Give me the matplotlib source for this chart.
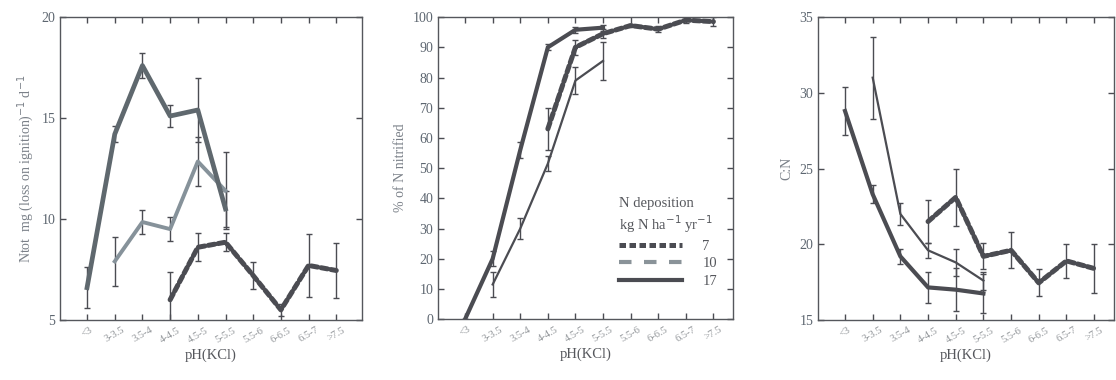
import matplotlib.pyplot as plt
from matplotlib.lines import Line2D
import numpy as np

plt.rcParams['font.family'] = ['Liberation Serif', 'DejaVu Serif']

# pH(KCl) classes
cats = ["<3", "3-3.5", "3.5-4", "4-4.5", "4.5-5", "5-5.5", "5.5-6", "6-6.5", "6.5-7", ">7.5"]
N = None

# panel a: Ntot mg (loss on ignition)-1 d-1
ntot_7 = [N, N, N, 6.0, 8.6, 8.85, 7.2, 5.5, 7.7, 7.45]
ntot_7_err = [N, N, N, 1.4, 0.7, 0.45, 0.65, 0.3, 1.55, 1.35]
ntot_10 = [N, 7.9, 9.85, 9.5, 12.85, 11.4, N, N, N, N]
ntot_10_err = [N, 1.2, 0.6, 0.6, 1.2, 1.9, N, N, N, N]
ntot_17 = [6.6, 14.2, 17.6, 15.1, 15.4, 10.5, N, N, N, N]
ntot_17_err = [1.0, 0.4, 0.6, 0.55, 1.6, 0.9, N, N, N, N]

# panel b: % of N nitrified
nitr_7 = [N, N, N, 63, 90, 94.5, 97.2, 96, 99, 98.5]
nitr_7_err = [N, N, N, 7, 2.5, 1.5, 0.5, 1, 1, 1.5]
nitr_10 = [N, 11.5, 30, 51.5, 79, 85.5, N, N, N, N]
nitr_10_err = [N, 4, 3.5, 2.5, 4.6, 6.3, N, N, N, N]
nitr_17 = [0, 20, 56, 90, 95.8, 96.5, N, N, N, N]
nitr_17_err = [0, 2.5, 2.5, 1, 1, 1, N, N, N, N]

# panel c: C:N
cn_7 = [N, N, N, 21.5, 23.1, 19.2, 19.6, 17.45, 18.9, 18.4]
cn_7_err = [N, N, N, 1.45, 1.9, 0.85, 1.2, 0.9, 1.1, 1.6]
cn_10 = [N, 31, 22.0, 19.6, 18.8, 17.6, N, N, N, N]
cn_10_err = [N, 2.7, 0.7, 0.5, 0.9, 0.6, N, N, N, N]
cn_17 = [28.8, 23.3, 19.2, 17.15, 17.0, 16.75, N, N, N, N]
cn_17_err = [1.6, 0.6, 0.5, 1.0, 1.4, 1.3, N, N, N, N]

dark = '#4b4c52'
gray10 = '#86929a'
tickc = '#5d6670'


def arr(v):
    return np.array([np.nan if a is None else a for a in v], dtype=float)


def draw(ax, y, e, style):
    x = np.arange(len(cats))
    y, e = arr(y), arr(e)
    ax.errorbar(x, y, yerr=e, fmt='none', ecolor=dark, elinewidth=1.0,
                capsize=2.2, capthick=1.0, zorder=2)
    ax.plot(x, y, zorder=3, **style)


def setup(ax, ylim, yticks, ylabel, xlim):
    ax.set_xlim(*xlim)
    ax.set_ylim(*ylim)
    ax.set_yticks(yticks)
    ax.set_xticks(np.arange(len(cats)))
    ax.set_xticklabels(cats, rotation=30, fontsize=7.5, color='#8f9397')
    ax.tick_params(direction='in', top=True, right=True, length=4,
                   width=1.0, color=dark)
    ax.tick_params(axis='y', labelsize=10, labelcolor=tickc)
    ax.tick_params(axis='x', pad=4)
    for s in ax.spines.values():
        s.set_color('#55575c')
        s.set_linewidth(1.0)
    ax.set_xlabel('pH(KCl)', fontsize=10.5, color='#55575c', labelpad=3)
    ax.set_ylabel(ylabel, fontsize=10, color='#7a8088')


s7 = dict(color=dark, lw=3.6, linestyle=(0, (1.3, 0.7)), solid_capstyle='round',
          dash_capstyle='round')
s17 = dict(color=dark, lw=3.0, solid_joinstyle='miter')

fig = plt.figure(figsize=(11.16, 3.8), dpi=100)
ax1 = fig.add_axes([0.0538, 0.158, 0.2706, 0.797])
ax2 = fig.add_axes([0.3925, 0.160, 0.2643, 0.795])
ax3 = fig.add_axes([0.733, 0.158, 0.265, 0.797])

draw(ax1, ntot_7, ntot_7_err, s7)
draw(ax1, ntot_10, ntot_10_err, dict(color=gray10, lw=2.8))
draw(ax1, ntot_17, ntot_17_err, dict(color='#5f686e', lw=3.4))
setup(ax1, (5, 20), [5, 10, 15, 20], 'Ntot  mg (loss on ignition)$^{-1}$ d$^{-1}$',
      (-0.975, 9.93))

draw(ax2, nitr_7, nitr_7_err, s7)
draw(ax2, nitr_10, nitr_10_err, dict(color=dark, lw=1.6))
draw(ax2, nitr_17, nitr_17_err, s17)
setup(ax2, (0, 100), np.arange(0, 101, 10), '% of N nitrified', (-0.98, 9.71))

draw(ax3, cn_7, cn_7_err, s7)
draw(ax3, cn_10, cn_10_err, dict(color=dark, lw=1.6))
draw(ax3, cn_17, cn_17_err, s17)
setup(ax3, (15, 35), [15, 20, 25, 30, 35], 'C:N', (-0.975, 9.71))

handles = [Line2D([], [], color=dark, lw=3.6, linestyle=(0, (1.3, 0.7))),
           Line2D([], [], color='#8a9399', lw=3.0, linestyle=(0, (3, 3))),
           Line2D([], [], color=dark, lw=3.0)]
leg = ax2.legend(handles, ['7', '10', '17'],
                 title='N deposition\nkg N ha$^{-1}$ yr$^{-1}$',
                 loc='lower right', bbox_to_anchor=(0.99, 0.06), frameon=False,
                 fontsize=10.5, title_fontsize=10.5, handlelength=4.3,
                 handletextpad=1.4, labelspacing=0.3)
leg._legend_box.align = 'left'
for t in leg.get_texts():
    t.set_color('#55575c')
leg.get_title().set_color('#55575c')

fig.savefig('out.png', dpi=100)
